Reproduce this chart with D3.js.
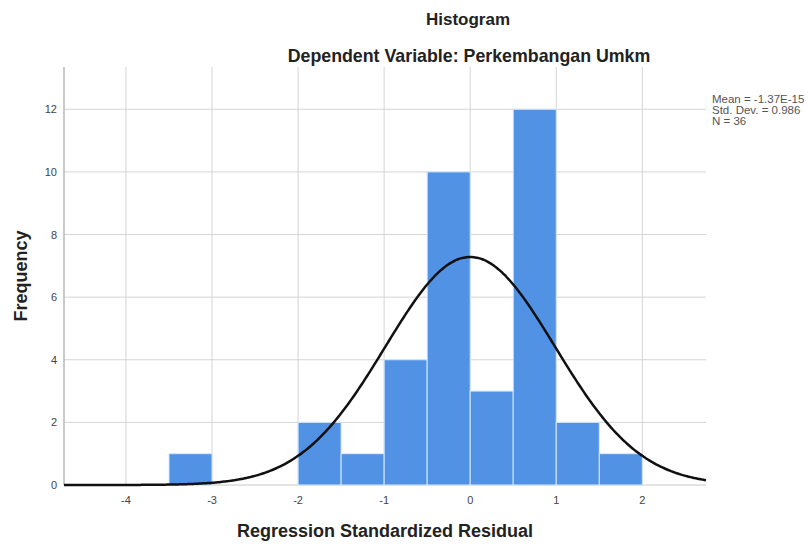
<!DOCTYPE html>
<html>
<head>
<meta charset="utf-8">
<script src="https://cdn.jsdelivr.net/npm/d3@7"></script>
<style>
  body { margin: 0; background: #fff; }
  svg { display: block; font-family: "Liberation Sans", Arial, sans-serif; }
</style>
</head>
<body>
<div id="chart"></div>
<script>
// bins of 0.5 width (lower edge) and their counts
const binStarts = [-3.5, -2, -1.5, -1, -0.5, 0, 0.5, 1, 1.5];
const binCounts = [1, 2, 1, 4, 10, 3, 12, 2, 1];
const binWidth = 0.5;
const xTicks = [-4, -3, -2, -1, 0, 1, 2];
const yTicks = [0, 2, 4, 6, 8, 10, 12];
const statLines = ["Mean = -1.37E-15", "Std. Dev. = 0.986", "N = 36"];
const mean = -1.37e-15, sd = 0.986, n = 36;

const width = 808, height = 544;
const plot = { left: 64, right: 706, top: 67, bottom: 485 };

const svg = d3.select("#chart").append("svg")
  .attr("width", width).attr("height", height);

const x = d3.scaleLinear().domain([-4.72, 2.74]).range([plot.left, plot.right]);
const y = d3.scaleLinear().domain([0, 13.35]).range([plot.bottom, plot.top]);

// grid
svg.append("g").selectAll("line").data(yTicks.filter(d => d > 0)).join("line")
  .attr("x1", plot.left).attr("x2", plot.right)
  .attr("y1", d => y(d)).attr("y2", d => y(d))
  .attr("stroke", "#d4d4d4").attr("stroke-width", 1);
svg.append("g").selectAll("line").data(xTicks).join("line")
  .attr("x1", d => x(d)).attr("x2", d => x(d))
  .attr("y1", plot.top).attr("y2", plot.bottom)
  .attr("stroke", "#d4d4d4").attr("stroke-width", 1);

// axis lines
svg.append("line").attr("x1", plot.left).attr("x2", plot.left)
  .attr("y1", plot.top).attr("y2", plot.bottom)
  .attr("stroke", "#b8b8b8").attr("stroke-width", 1.5);
svg.append("line").attr("x1", plot.left).attr("x2", plot.right)
  .attr("y1", plot.bottom).attr("y2", plot.bottom)
  .attr("stroke", "#c8c8c8").attr("stroke-width", 1);

// bars
svg.append("g").selectAll("rect").data(binStarts).join("rect")
  .attr("x", d => x(d))
  .attr("width", d => x(d + binWidth) - x(d))
  .attr("y", (d, i) => y(binCounts[i]))
  .attr("height", (d, i) => y(0) - y(binCounts[i]))
  .attr("fill", "#5192e4")
  .attr("stroke", "#d6e8ff").attr("stroke-width", 1);

// normal curve from the stats shown in the legend
const curveXs = d3.range(x.domain()[0], x.domain()[1] + 0.001, 0.02);
const dens = v => n * binWidth / (sd * Math.sqrt(2 * Math.PI)) * Math.exp(-0.5 * ((v - mean) / sd) ** 2);
svg.append("path")
  .datum(curveXs)
  .attr("d", d3.line().x(d => x(d)).y(d => y(dens(d))).curve(d3.curveBasis))
  .attr("fill", "none").attr("stroke", "#111").attr("stroke-width", 2.5);

// tick labels
svg.append("g").selectAll("text").data(yTicks).join("text")
  .attr("x", 57).attr("y", d => y(d) + 4)
  .attr("text-anchor", "end").attr("font-size", 11).attr("fill", "#444")
  .text(d => d);
svg.append("g").selectAll("text").data(xTicks).join("text")
  .attr("x", d => x(d)).attr("y", 504)
  .attr("text-anchor", "middle").attr("font-size", 11).attr("fill", "#444")
  .text(d => d);

// titles
svg.append("text").attr("x", 468).attr("y", 25).attr("text-anchor", "middle")
  .attr("font-size", 17).attr("font-weight", "bold").attr("fill", "#222").text("Histogram");
svg.append("text").attr("x", 469).attr("y", 62).attr("text-anchor", "middle")
  .attr("font-size", 17.8).attr("font-weight", "bold").attr("fill", "#222")
  .text("Dependent Variable: Perkembangan Umkm");
svg.append("text").attr("x", 385).attr("y", 537).attr("text-anchor", "middle")
  .attr("font-size", 18).attr("font-weight", "bold").attr("fill", "#222")
  .text("Regression Standardized Residual");
svg.append("text").attr("transform", "translate(27,276) rotate(-90)")
  .attr("text-anchor", "middle")
  .attr("font-size", 18).attr("font-weight", "bold").attr("fill", "#222")
  .text("Frequency");

// stats legend
svg.append("g").selectAll("text").data(statLines).join("text")
  .attr("x", 712).attr("y", (d, i) => 103 + i * 11)
  .attr("font-size", 11.5).attr("fill", "#555")
  .text(d => d);
</script>
</body>
</html>
